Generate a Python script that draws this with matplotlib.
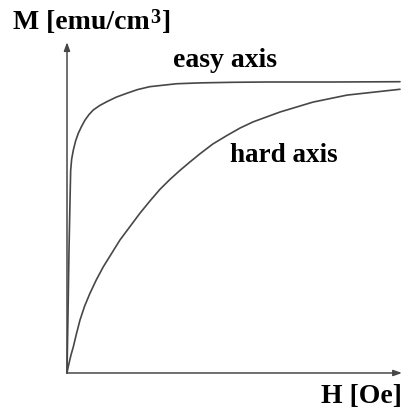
import matplotlib
matplotlib.use("Agg")
import matplotlib.pyplot as plt

# Magnetization curves (arbitrary units): field H, magnetization M
easy_H = [0.0, 0.03, 0.06, 0.09, 0.11, 0.14, 0.19, 0.26, 0.34, 0.44, 0.54, 0.66,
          0.79, 0.98, 1.19, 1.48, 1.79, 2.12, 2.49, 3.29, 4.0, 5.0, 6.0, 8.0, 10.0]
easy_M = [0.0, 0.20, 0.42, 0.59, 0.696, 0.735, 0.766, 0.798, 0.824, 0.848, 0.869,
          0.888, 0.904, 0.919, 0.932, 0.948, 0.961, 0.974, 0.984, 0.994, 0.997,
          0.999, 1.0, 1.0, 1.001]

hard_H = [0.0, 0.03, 0.07, 0.12, 0.19, 0.28, 0.39, 0.53, 0.69, 0.88, 1.09, 1.59,
          2.19, 2.49, 2.79, 3.09, 3.39, 3.69, 3.99, 4.38, 4.80, 5.20, 5.59, 6.40,
          7.39, 8.41, 10.0]
hard_M = [0.0, 0.018, 0.038, 0.062, 0.090, 0.133, 0.182, 0.230, 0.274, 0.320, 0.365,
          0.457, 0.549, 0.591, 0.631, 0.665, 0.696, 0.725, 0.753, 0.787, 0.816,
          0.842, 0.863, 0.897, 0.931, 0.955, 0.975]

x_label = "H [Oe]"
y_label_parts = ["M [emu/cm", "3", "]"]
easy_label = "easy axis"
hard_label = "hard axis"

plt.rcParams["font.family"] = ["Liberation Serif", "DejaVu Serif"]

fig = plt.figure(figsize=(4.06, 4.13), dpi=100)
ax = fig.add_axes([0, 0, 1, 1])
ax.set_xlim(-2.012, 10.18)
ax.set_ylim(-0.1375, 1.2818)
ax.axis("off")

line_color = "#474747"

# axes drawn as arrows from the origin
arrow = dict(arrowstyle="-|>,head_length=0.5,head_width=0.18", color=line_color,
             lw=1.1, shrinkA=0, shrinkB=0)
ax.annotate("", xy=(0, 1.137), xytext=(0, 0), arrowprops=arrow)
ax.annotate("", xy=(10.06, 0), xytext=(0, 0), arrowprops=arrow)

ax.plot(easy_H, easy_M, color=line_color, lw=1.2, solid_capstyle="round",
        solid_joinstyle="round")
ax.plot(hard_H, hard_M, color=line_color, lw=1.2, solid_capstyle="round",
        solid_joinstyle="round")

ax.text(3.18, 1.053, easy_label, fontsize=20, fontweight="bold", ha="left", va="baseline")
ax.text(4.89, 0.725, hard_label, fontsize=19.5, fontweight="bold", ha="left", va="baseline")
ax.text(10.06, -0.103, x_label, fontsize=20, fontweight="bold", ha="right", va="baseline")

# y-axis label with a raised exponent
y_base = 1.182
t_main = ax.text(-1.63, y_base, y_label_parts[0], fontsize=20, fontweight="bold",
                 ha="left", va="baseline")
t_sup = ax.annotate(y_label_parts[1], xy=(1, y_base), xycoords=(t_main, "data"),
                    xytext=(0.6, 4.5), textcoords="offset points",
                    fontsize=14.5, fontweight="bold", ha="left", va="baseline")
ax.annotate(y_label_parts[2], xy=(1, y_base), xycoords=(t_sup, "data"),
            xytext=(0.8, 0), textcoords="offset points",
            fontsize=20, fontweight="bold", ha="left", va="baseline")

fig.savefig("out.png", dpi=100, facecolor="white")
